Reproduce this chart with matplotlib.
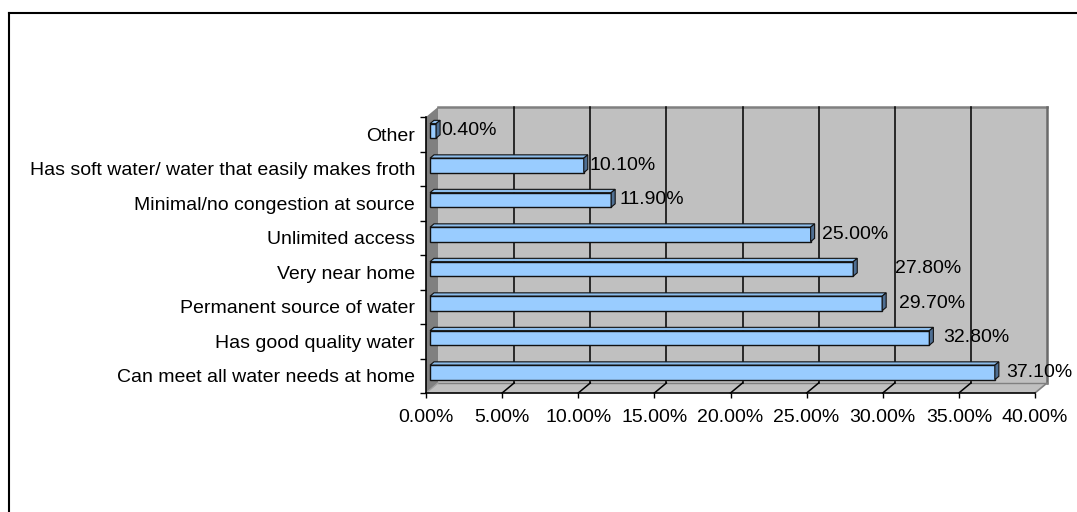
import matplotlib
matplotlib.use("Agg")
import matplotlib.pyplot as plt
from matplotlib.patches import Polygon
from matplotlib.lines import Line2D

# ---- data (bottom to top) ----
categories = [
    "Can meet all water needs at home",
    "Has good quality water",
    "Permanent source of water",
    "Very near home",
    "Unlimited access",
    "Minimal/no congestion at source",
    "Has soft water/ water that easily makes froth",
    "Other",
]
values = [37.1, 32.8, 29.7, 27.8, 25.0, 11.9, 10.1, 0.4]
x_ticks = [0, 5, 10, 15, 20, 25, 30, 35, 40]
x_tick_labels = [f"{t:.2f}%" for t in x_ticks]
value_labels = [f"{v:.2f}%" for v in values]
# label gaps (pixels) mimicking Excel placement
label_gap_px = [7, 10, 13, 38, 7, 4, 2, 1]

plt.rcParams['font.family'] = ['Liberation Sans', 'DejaVu Sans']
FS = 14

W, H = 1077, 512
fig = plt.figure(figsize=(W / 100, H / 100), dpi=100)
fig.patch.set_facecolor("white")

# axes: x 0..40 -> px 426..1035 ; y -0.5..7.5 -> px 393..117
L, R, T, B = 426, 1035, 117, 393
ax = fig.add_axes([L / W, (H - B) / H, (R - L) / W, (B - T) / H])
ax.set_xlim(0, 40)
ax.set_ylim(-0.5, 7.5)
ax.set_facecolor("none")

px_x = (R - L) / 40.0
px_y = (B - T) / 8.0
dx = 12 / px_x   # depth offset in data units
dy = 10 / px_y

y0, y1 = -0.5, 7.5
wall_gray = "#C0C0C0"
side_gray = "#808080"

# back wall
ax.add_patch(Polygon([(dx, y0 + dy), (40 + dx, y0 + dy), (40 + dx, y1 + dy), (dx, y1 + dy)],
                     closed=True, facecolor=wall_gray, edgecolor="none", zorder=0.5, clip_on=False))
# top & right edges of wall
ax.plot([dx, 40 + dx], [y1 + dy, y1 + dy], color="#808080", lw=1.8, zorder=0.6, clip_on=False)
ax.plot([40 + dx, 40 + dx], [y0 + dy, y1 + dy], color="#6a6a6a", lw=1.8, zorder=0.6, clip_on=False)
# floor
ax.add_patch(Polygon([(0, y0), (40, y0), (40 + dx, y0 + dy), (dx, y0 + dy)],
                     closed=True, facecolor=wall_gray, edgecolor="none", zorder=0.5, clip_on=False))
ax.plot([40, 40 + dx], [y0, y0 + dy], color="#808080", lw=1.2, zorder=0.6, clip_on=False)
ax.plot([dx, 40 + dx], [y0 + dy, y0 + dy], color="#808080", lw=1.0, zorder=0.6, clip_on=False)
# side wall
ax.add_patch(Polygon([(0, y0), (dx, y0 + dy), (dx, y1 + dy), (0, y1)],
                     closed=True, facecolor=side_gray, edgecolor="none", zorder=0.5, clip_on=False))
ax.plot([0, dx], [y0, y0 + dy], color="#a0a0a0", lw=1.0, zorder=0.6, clip_on=False)

# gridlines on back wall and floor
for t in x_ticks[1:-1]:
    ax.plot([t + dx, t + dx], [y0 + dy, y1 + dy], color="black", lw=1.1, zorder=0.7, clip_on=False)
for t in x_ticks[1:-1]:
    ax.plot([t, t + dx], [y0, y0 + dy], color="black", lw=1.1, zorder=0.7, clip_on=False)

# bars
ypos = list(range(len(categories)))
bh = 0.42
bdx, bdy = dx / 3, dy / 3
left = dx / 3
front = "#99CCFF"
topc = "#8DBDEB"
sidec = "#4F6F93"
ax.barh([y + bdy for y in ypos], values, height=bh, left=left, color=front,
        edgecolor="#111111", linewidth=1.0, zorder=3)
for y, v in zip(ypos, values):
    yc = y + bdy
    t_ = yc + bh / 2
    b_ = yc - bh / 2
    xr = left + v
    ax.add_patch(Polygon([(left, t_), (xr, t_), (xr + bdx, t_ + bdy), (left + bdx, t_ + bdy)],
                         closed=True, facecolor=topc, edgecolor="#111111", lw=0.8, zorder=2.9))
    ax.add_patch(Polygon([(xr, b_), (xr + bdx, b_ + bdy), (xr + bdx, t_ + bdy), (xr, t_)],
                         closed=True, facecolor=sidec, edgecolor="#111111", lw=0.8, zorder=3.1))

# data labels
for y, v, lab, g in zip(ypos, values, value_labels, label_gap_px):
    ax.annotate(lab, xy=(left + v + bdx, y + bdy), xytext=(g * 0.72, 0),
                textcoords="offset points", ha="left", va="center",
                fontsize=FS, color="black", zorder=5, annotation_clip=False)

# axes styling
for s in ["top", "right"]:
    ax.spines[s].set_visible(False)
ax.spines["bottom"].set_color("black")
ax.spines["left"].set_color("black")
ax.spines["bottom"].set_linewidth(1.2)
ax.spines["left"].set_linewidth(1.2)
ax.spines["bottom"].set_zorder(4)
ax.spines["left"].set_zorder(4)

ax.set_xticks(x_ticks)
ax.set_xticklabels(x_tick_labels, fontsize=FS)
ax.tick_params(axis="x", direction="out", length=3.6, width=1.0, color="black", pad=8)

ax.set_yticks(ypos)
ax.set_yticklabels(categories, fontsize=FS)
ax.tick_params(axis="y", which="major", length=0, pad=8)
ax.set_yticks([y - 0.5 for y in range(len(categories) + 1)], minor=True)
ax.tick_params(axis="y", which="minor", direction="out", length=4.3, width=1.0, color="black")

# outer border (top & left only visible)
fig.add_artist(Line2D([9 / W, 9 / W], [0, 1 - 13 / H], transform=fig.transFigure,
                      color="black", lw=1.5))
fig.add_artist(Line2D([9 / W, 1], [1 - 13 / H, 1 - 13 / H], transform=fig.transFigure,
                      color="black", lw=1.5))

fig.savefig("out.png", dpi=100, facecolor="white")
